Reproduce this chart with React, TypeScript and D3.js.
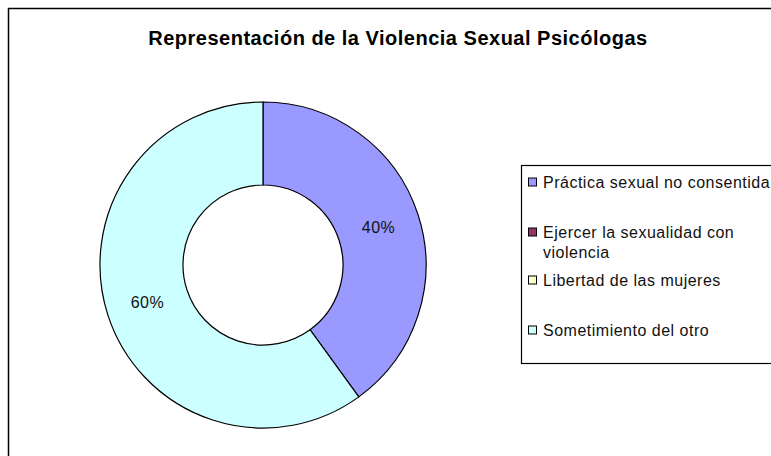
import React from "react";
import * as d3 from "d3";

// data
const categories = [
  "Práctica sexual no consentida",
  "Ejercer la sexualidad con violencia",
  "Libertad de las mujeres",
  "Sometimiento del otro",
];
const values = [40, 0, 0, 60];
const colors = ["#9999FF", "#993366", "#FFFFCC", "#CCFFFF"];
const legendLines = [
  ["Práctica sexual no consentida"],
  ["Ejercer la sexualidad con", "violencia"],
  ["Libertad de las mujeres"],
  ["Sometimiento del otro"],
];
const title = "Representación de la Violencia Sexual Psicólogas";

const W = 771;
const H = 456;
const FONT = "Arial, 'Liberation Sans', sans-serif";

// layout
const cx = 263;
const cy = 265;
const outerR = 163;
const innerR = 80;
const legendX = 521.5;
const legendTop = 165.5;
const legendH = 198;
const legendRowY = [182, 232, 280, 330];
const lineH = 20;

export default function App() {
  const total = d3.sum(values);
  const pie = d3
    .pie<number>()
    .sort(null)
    .startAngle(0)
    .endAngle(2 * Math.PI)
    .value((d) => d);
  const arcs = pie(values);
  const arc = d3.arc<d3.PieArcDatum<number>>().innerRadius(innerR).outerRadius(outerR);
  const labelArc = d3
    .arc<d3.PieArcDatum<number>>()
    .innerRadius((innerR + outerR) / 2)
    .outerRadius((innerR + outerR) / 2);
  const fmt = d3.format(".0%");

  return (
    <svg
      width={W}
      height={H}
      style={{ position: "absolute", left: 0, top: 0, background: "#fff" }}
      fontFamily={FONT}
    >
      <rect x={8.5} y={8.5} width={W + 20} height={H + 20} fill="#fff" stroke="#000" strokeWidth={1.5} />
      <text
        x={398}
        y={45}
        textAnchor="middle"
        fontSize={20}
        fontWeight="bold"
        fill="#000"
        letterSpacing={0.5}
      >
        {title}
      </text>

      <g transform={`translate(${cx},${cy})`}>
        {arcs
          .filter((a) => a.value > 0)
          .map((a, i) => (
            <path key={i} d={arc(a) || ""} fill={colors[a.index]} stroke="#000" strokeWidth={1.2} />
          ))}
        {arcs
          .filter((a) => a.value > 0)
          .map((a, i) => {
            const [lx, ly] = labelArc.centroid(a);
            return (
              <text
                key={i}
                x={lx}
                y={ly}
                dy="0.35em"
                textAnchor="middle"
                fontSize={16}
                letterSpacing={0.5}
                fill="#111"
              >
                {fmt(a.value / total)}
              </text>
            );
          })}
      </g>

      <rect x={legendX} y={legendTop} width={300} height={legendH} fill="#fff" stroke="#000" strokeWidth={1.2} />
      {categories.map((c, i) => (
        <g key={c}>
          <rect
            x={528.5}
            y={legendRowY[i] - 4}
            width={8}
            height={8}
            fill={colors[i]}
            stroke="#000"
            strokeWidth={1}
          />
          {legendLines[i].map((ln, j) => (
            <text
              key={j}
              x={543}
              y={legendRowY[i] + j * lineH}
              dy="0.35em"
              fontSize={16}
              letterSpacing={0.5}
              fill="#111"
            >
              {ln}
            </text>
          ))}
        </g>
      ))}
    </svg>
  );
}
